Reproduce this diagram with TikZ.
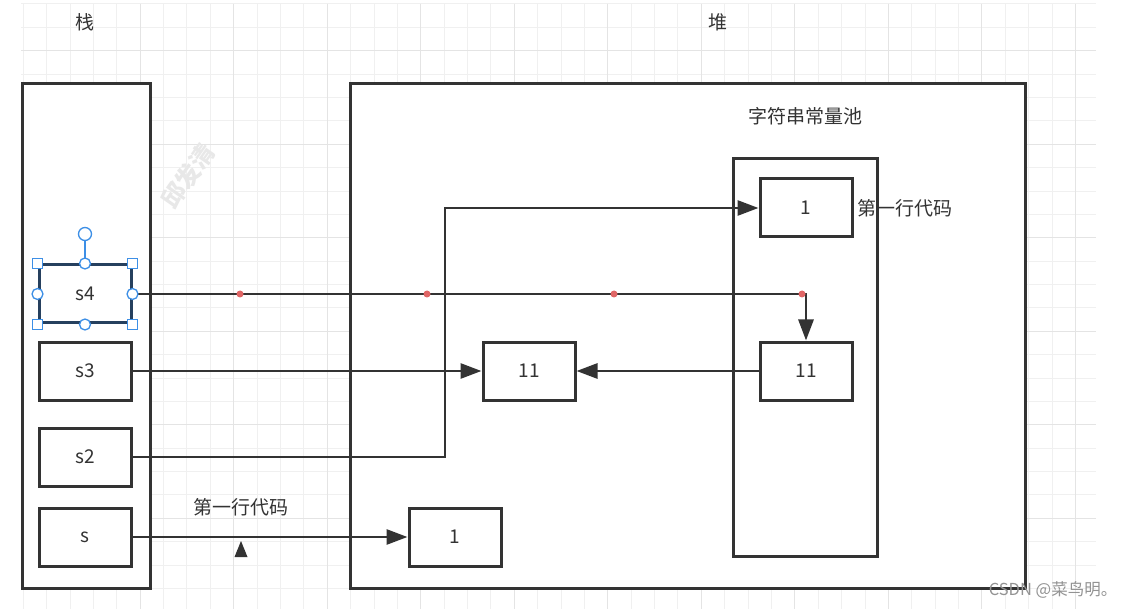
\documentclass[tikz,border=0pt]{standalone}
\usepackage{fontspec}
\setmainfont{Noto Sans CJK SC}
\usepackage{tikz}
\usetikzlibrary{calc, positioning, arrows.meta}

\definecolor{inkgray}{HTML}{333333}
\definecolor{gridminor}{HTML}{F0F0F0}
\definecolor{gridmajor}{HTML}{E4E4E4}
\definecolor{selblue}{HTML}{3D8FE6}
\definecolor{selframe}{HTML}{26405E}
\definecolor{dotred}{HTML}{E06666}

\begin{document}
\begin{tikzpicture}[x=1pt, y=-1pt,
        every node/.style={font=\fontsize{19}{22}\selectfont, text=inkgray},
        area/.style={draw=inkgray, line width=3pt, fill=white, inner sep=0pt},
        cell/.style={draw=inkgray, line width=3pt, fill=white, minimum width=92pt, minimum height=58pt, inner sep=0pt},
        link/.style={draw=inkgray, line width=2.8pt, -{Triangle[length=21pt, width=15pt]}},
        handle/.style={draw=selblue, line width=1.3pt, fill=white}]
    \useasboundingbox (0,0) rectangle (1137,609);
    % grid background
    \fill[white] (0,0) rectangle (1137,609);
    \foreach \k in {0,...,26} {
            \pgfmathsetmacro\yy{4+23.38*\k}
            \draw[gridminor, line width=1pt] (21,\yy) -- (1096,\yy);
        };
    \foreach \k in {-1,...,44} {
            \pgfmathsetmacro\xx{46.7+23.38*\k}
            \draw[gridminor, line width=1pt] (\xx,4) -- (\xx,609);
        };
    \foreach \k in {0,4,...,24} {
            \pgfmathsetmacro\yy{50.7+23.38*\k}
            \draw[gridmajor, line width=1pt] (21,\yy) -- (1096,\yy);
        };
    \foreach \k in {0,4,...,40} {
            \pgfmathsetmacro\xx{140+23.38*\k}
            \draw[gridmajor, line width=1pt] (\xx,4) -- (\xx,609);
        };
    \node[text=black!9, rotate=55, font=\fontsize{24}{26}\bfseries] (mark) at (188,176) {邱发清};

    % labels
    \node (stacklabel) at (85,22) {栈};
    \node (heaplabel) at (718,22) {堆};

    % areas
    \node[area, minimum width=128pt, minimum height=504pt] (stackbox) at (86,336) {};
    \node[area, minimum width=675pt, minimum height=504pt] (heapbox) at (687.5,336) {};
    \node (poollabel) at (805,116) {字符串常量池};
    \node[area, minimum width=144pt, minimum height=397pt] (poolbox) at (805,357.5) {};

    % cells
    \node[cell] (poolone) at (806,208) {1};
    \node[cell] (pooleleven) at (806,371) {11};
    \node[cell] (heapeleven) at (529,371) {11};
    \node[cell] (heapone) at (455,537) {1};
    \node[right=0pt of poolone] (firstline) {第一行代码};

    \node[cell, draw=selframe] (sfour) at (85,294) {s4};
    \node[cell] (sthree) at (85,371) {s3};
    \node[cell] (stwo) at (85,457) {s2};
    \node[cell] (sone) at (85,537) {s};
    \node (firstlinetwo) at (241,507) {第一行代码};

    % connectors
    \draw[link] (sfour.east) -| (pooleleven.north);
    \draw[link] (sthree.east) -- (heapeleven.west);
    \draw[link] (pooleleven.west) -- (heapeleven.east);
    \coordinate (stwoturn) at (445,457);
    \draw[link] (stwo.east) -- (stwoturn) |- (poolone.west);
    \draw[link] (sone.east) -- (heapone.west);
    \fill[inkgray] (241,541) -- (247.5,557) -- (234.5,557) -- cycle;

    % waypoints
    \foreach \x in {240,427,614,802} {
            \fill[dotred] (\x,294) circle (3.5);
        };

    % selection handles
    \draw[selblue, line width=1.3pt] (sfour.north) -- (85,234);
    \draw[handle] (85,234) circle (6.5);
    \foreach \a in {north west, north east, south west, south east} {
            \draw[handle] ($(sfour.\a)+(-5,-5)$) rectangle +(10,10);
        };
    \foreach \a in {north, south, east, west} {
            \draw[handle] (sfour.\a) circle (5.5);
        };

    \node[text=gray!85, font=\fontsize{16.5}{18}\selectfont] (credit) at (1053,590) {CSDN @菜鸟明。};
\end{tikzpicture}
\end{document}
